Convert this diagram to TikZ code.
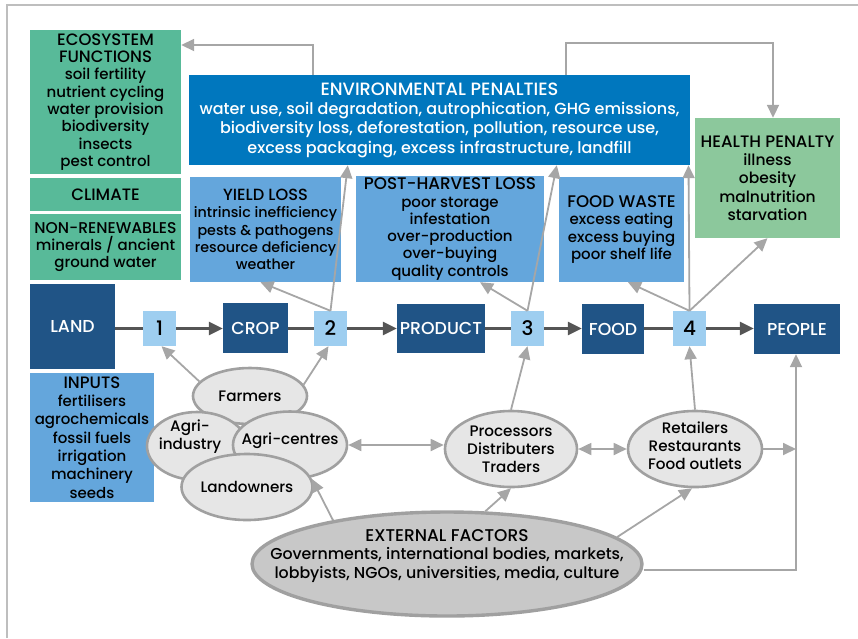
\documentclass[tikz,border=0pt]{standalone}
\usepackage{fontspec}
\setmainfont{Poppins}[UprightFont=* Medium]
\usetikzlibrary{arrows.meta,shapes.geometric}
\definecolor{ecoGreen}{RGB}{88,186,153}
\definecolor{healthGreen}{RGB}{140,200,156}
\definecolor{envBlue}{RGB}{0,119,190}
\definecolor{lossBlue}{RGB}{100,166,220}
\definecolor{stageNavy}{RGB}{32,84,134}
\definecolor{stepBlue}{RGB}{158,206,240}
\definecolor{actorFill}{RGB}{230,230,230}
\definecolor{extFill}{RGB}{200,200,200}
\definecolor{edgeGrey}{RGB}{160,160,160}
\definecolor{linkGrey}{RGB}{166,166,166}
\definecolor{flowGrey}{RGB}{85,85,85}
\definecolor{frameGrey}{RGB}{190,190,190}
% heading line inside a panel
\newcommand\boxtitle[2][16.5]{{\fontsize{#1}{17.3}\selectfont #2}}

\begin{document}
\begin{tikzpicture}[x=1pt,y=-1pt,
  txt/.style={font=\fontsize{15}{17.3}\selectfont, align=center, inner sep=0pt},
  panel/.style={txt, rectangle, anchor=center},
  stage/.style={panel, fill=stageNavy, text=white, font=\fontsize{17.3}{19}\selectfont},
  stepbox/.style={panel, fill=stepBlue, minimum width=33pt, minimum height=35pt, font=\fontsize{20}{22}\selectfont},
  actor/.style={txt, ellipse, draw=edgeGrey, line width=2.6pt, fill=actorFill, font=\fontsize{15.2}{18}\selectfont},
  actortxt/.style={txt, font=\fontsize{15.2}{18}\selectfont},
  conn/.style={draw=linkGrey, line width=1.8pt, -{Triangle[length=13pt,width=12pt]}},
  biconn/.style={draw=linkGrey, line width=1.8pt, {Triangle[length=13pt,width=12pt]}-{Triangle[length=13pt,width=12pt]}},
  flow/.style={draw=flowGrey, line width=2.6pt, -{Triangle[length=14pt,width=13pt]}},
  flowline/.style={draw=flowGrey, line width=2.6pt}
]
\useasboundingbox (0,0) rectangle (858,638);
\draw[frameGrey, line width=1.5pt] (7,638) -- (7,5) -- (858,5);

% ---- resource panels (left) ----
\node[panel, fill=ecoGreen, minimum width=151pt, minimum height=144pt] (eco) at (105.5,102)
  {\boxtitle{ECOSYSTEM}\\\boxtitle{FUNCTIONS}\\soil fertility\\nutrient cycling\\water provision\\biodiversity\\insects\\pest control};
\node[panel, fill=ecoGreen, minimum width=151pt, minimum height=33pt] (climate) at (105.5,194.5) {\boxtitle{CLIMATE}};
\node[panel, fill=ecoGreen, minimum width=151pt, minimum height=66pt] (nonren) at (105.5,247)
  {\boxtitle[15.6]{NON-RENEWABLES}\\minerals / ancient\\ground water};

% ---- penalty and loss panels ----
\node[panel, fill=envBlue, text=white, minimum width=501pt, minimum height=90pt,
      font=\fontsize{16}{19.3}\selectfont] (env) at (439.5,120)
  {\boxtitle[17.8]{ENVIRONMENTAL PENALTIES}\\water use, soil degradation, autrophication, GHG emissions,\\biodiversity loss, deforestation, pollution, resource use,\\excess packaging, excess infrastructure, landfill};
\node[panel, fill=lossBlue, minimum width=151pt, minimum height=105pt,
      font=\fontsize{14.3}{17.3}\selectfont] (yield) at (265.5,229.5)
  {\boxtitle[16.2]{YIELD LOSS}\\intrinsic inefficiency\\pests \& pathogens\\resource deficiency\\weather};
\node[panel, fill=lossBlue, minimum width=188pt, minimum height=106pt] (post) at (450,229)
  {\boxtitle[16.8]{POST-HARVEST LOSS}\\poor storage\\infestation\\over-production\\over-buying\\quality controls};
\node[panel, fill=lossBlue, minimum width=125pt, minimum height=105pt] (waste) at (621.5,229.5)
  {\boxtitle[16.8]{FOOD WASTE}\\excess eating\\excess buying\\poor shelf life};
\node[panel, fill=healthGreen, minimum width=145pt, minimum height=120pt,
      font=\fontsize{15.5}{18.3}\selectfont] (health) at (767.5,178)
  {\boxtitle[16.6]{HEALTH PENALTY}\\illness\\obesity\\malnutrition\\starvation};

% ---- main chain ----
\node[stage, minimum width=85pt, minimum height=85pt] (land) at (72.5,326.5) {LAND};
\node[stepbox] (n1) at (159.5,328.5) {1};
\node[stage, minimum width=65pt, minimum height=50pt] (crop) at (255.5,328) {CROP};
\node[stepbox] (n2) at (330.5,328.5) {2};
\node[stage, minimum width=88pt, minimum height=49pt] (product) at (441,328.5) {PRODUCT};
\node[stepbox] (n3) at (527.5,328.5) {3};
\node[stage, minimum width=62pt, minimum height=50pt] (food) at (613,329) {FOOD};
\node[stepbox] (n4) at (689.5,328.5) {4};
\node[stage, minimum width=86pt, minimum height=50pt] (people) at (797,329) {PEOPLE};

\node[panel, fill=lossBlue, minimum width=124pt, minimum height=129pt,
      font=\fontsize{15}{18.3}\selectfont] (inputs) at (92,437.5)
  {\boxtitle{INPUTS}\\fertilisers\\agrochemicals\\fossil fuels\\irrigation\\machinery\\seeds};

\draw[flowline] (land.east |- n1) -- (n1.west);
\draw[flow] (n1.east) -- (n1.east -| crop.west);
\draw[flowline] (crop.east |- n2) -- (n2.west);
\draw[flow] (n2.east) -- (n2.east -| product.west);
\draw[flowline] (product.east |- n3) -- (n3.west);
\draw[flow] (n3.east) -- (n3.east -| food.west);
\draw[flowline] (food.east |- n4) -- (n4.west);
\draw[flow] (n4.east) -- (n4.east -| people.west);

% ---- actors ----
\node[actor, minimum width=114pt, minimum height=56pt] (farmers) at (250,396) {Farmers};
\node[actor, minimum width=100pt, minimum height=68pt] (agriind) at (197,446) {};
\node[actortxt] (agriindtxt) at (190,437) {Agri-\\industry};
\node[actor, minimum width=114pt, minimum height=67pt] (agricentres) at (290,445) {};
\node[actortxt] (agricentrestxt) at (290,441) {Agri-centres};
\node[actor, minimum width=116pt, minimum height=66pt] (landowners) at (247,487) {Landowners};
\node[actor, minimum width=132pt, minimum height=76pt] (processors) at (511,449) {Processors\\Distributers\\Traders};
\node[actor, minimum width=134pt, minimum height=76pt] (retailers) at (695,449) {};
\node[actortxt] (retailerstxt) at (695,446) {Retailers\\Restaurants\\Food outlets};
\node[actor, fill=extFill, line width=3.4pt, minimum width=390pt, minimum height=104pt] (external) at (447,564) {};
\node[txt, font=\fontsize{15.8}{18.5}\selectfont] (externaltxt) at (447,556)
  {\boxtitle[17]{EXTERNAL FACTORS}\\Governments, international bodies, markets,\\lobbyists, NGOs, universities, media, culture};

% ---- feedback connectors ----
\coordinate (k1) at (313,45);
\coordinate (k2) at (566,43);
\coordinate (k3) at (773,43);
\coordinate (k4) at (796,570);
\coordinate (k5) at (796,449);
\draw[conn] (env.north -| k1) |- (eco.east |- k1);
\draw[conn] (env.north -| k2) |- (k3) -- (health.north -| k3);

\draw[conn] (n2.north) -- ([xshift=-5pt]yield.south);
\draw[conn] (n2.north) -- ([xshift=159pt]env.south west);
\draw[conn] (n3.north) -- ([xshift=30pt]post.south);
\draw[conn] (n3.north) -- ([xshift=368pt]env.south west);
\draw[conn] (n4.north) -- ([xshift=6.5pt]waste.south);
\draw[conn] (n4.north) -- ([xshift=-1pt]n4.north |- env.south);
\draw[conn] (n4.north) -- (health.south);

\draw[conn] (farmers.164) -- ([xshift=2pt]n1.south);
\draw[conn] (farmers.12) -- ([xshift=-2pt]n2.south);
\draw[biconn] (agricentres.east) -- (agricentres.east -| processors.west);
\draw[biconn] (processors.east) -- (retailers.west);
\draw[conn] (processors.north) -- (n3.south);
\draw[conn] (retailers.north) -- (n4.south);
\draw[conn] (retailers.east) -- (k5);
\draw[conn] (external.east |- k4) -- (k4) -- (people.south -| k4);
\draw[conn] (external.159.5) -- (landowners.7);
\draw[conn] (external.54.8) -- (processors.south);
\draw[conn] (external.9.1) -- ([xshift=-3pt]retailers.south);
\end{tikzpicture}
\end{document}
